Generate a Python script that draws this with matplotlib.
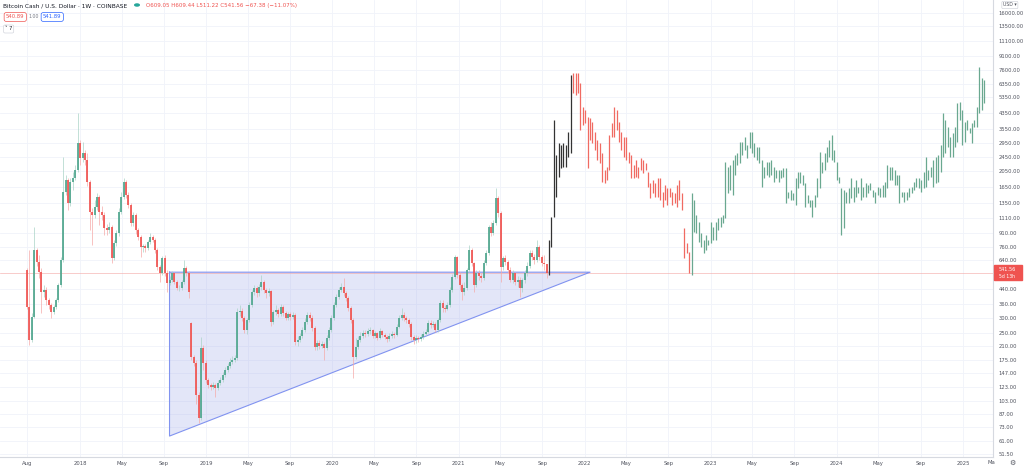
import numpy as np
import pandas as pd
import matplotlib
matplotlib.use('Agg')
import matplotlib.pyplot as plt
import matplotlib.dates as mdates
import matplotlib.ticker as mticker
from matplotlib.patches import Polygon, Rectangle, Circle

# weekly candles, first bar = week of 2017-07-31
first_open = 565
open_gaps = {68: 284}   # weeks that opened away from the previous close

closes = [349, 227, 307, 732, 627, 550, 424, 435, 382, 358,
          327, 349, 382, 465, 643, 1557, 1820, 1350, 1774, 1868,
          2073, 2945, 2424, 2586, 2361, 1774, 1201, 1155, 1281, 1459,
          1201, 1155, 975, 950, 988, 660, 803, 914, 1201, 1459,
          1774, 1498, 1315, 1041, 1155, 950, 868, 762, 772, 752,
          813, 868, 834, 732, 587, 543, 660, 543, 477, 496,
          543, 483, 447, 447, 483, 580, 543, 424, 182, 169,
          111, 82, 205, 169, 135, 127, 123, 127, 122, 130,
          135, 144, 154, 162, 171, 175, 180, 327, 332, 303,
          259, 295, 358, 424, 447, 419, 453, 483, 435, 419,
          430, 288, 327, 336, 319, 349, 323, 303, 319, 307,
          315, 222, 227, 240, 259, 288, 315, 303, 266, 208,
          219, 210, 216, 205, 233, 259, 303, 358, 397, 435,
          453, 419, 392, 345, 295, 182, 208, 227, 240, 249,
          246, 256, 259, 240, 249, 233, 256, 243, 236, 230,
          240, 246, 243, 269, 303, 315, 303, 295, 280, 236,
          227, 233, 230, 236, 246, 252, 284, 276, 280, 259,
          295, 368, 345, 340, 358, 435, 516, 669, 529, 465,
          424, 447, 565, 732, 619, 465, 543, 522, 509, 619,
          705, 988, 914, 1041, 1440, 1185, 587, 660, 627, 565,
          496, 543, 483, 496, 447, 496, 543, 595, 705, 669,
          643, 762, 669, 619, 609.05, 541.56]

highs = [580, 732, 323, 988, 752, 686, 580, 465, 453, 392,
         368, 358, 392, 477, 669, 2455, 1943, 1868, 1868, 2020,
         2212, 4351, 3062, 2983, 2689, 2586, 1820, 1265, 1403, 1537,
         1498, 1298, 1201, 1027, 1054, 1014, 834, 950, 1265, 1557,
         1868, 1820, 1557, 1350, 1201, 1185, 975, 890, 792, 792,
         834, 914, 890, 856, 752, 603, 677, 686, 565, 522,
         558, 550, 496, 465, 496, 643, 595, 558, 288, 187,
         175, 116, 236, 213, 175, 139, 130, 132, 130, 135,
         141, 150, 160, 169, 180, 185, 187, 345, 358, 345,
         311, 303, 372, 435, 465, 459, 471, 529, 496, 447,
         447, 435, 336, 358, 345, 363, 358, 332, 327, 327,
         327, 323, 240, 249, 269, 303, 327, 327, 315, 273,
         227, 227, 224, 222, 243, 269, 315, 372, 413, 453,
         477, 509, 430, 403, 354, 303, 233, 240, 252, 259,
         259, 266, 269, 262, 256, 252, 266, 259, 249, 243,
         249, 256, 252, 280, 315, 345, 327, 311, 303, 288,
         243, 243, 240, 246, 256, 262, 295, 295, 292, 288,
         303, 382, 382, 358, 372, 453, 536, 686, 677, 550,
         477, 483, 580, 782, 752, 627, 565, 565, 543, 643,
         732, 1014, 1054, 1082, 1641, 1478, 1216, 677, 686, 643,
         587, 565, 550, 522, 516, 509, 565, 627, 732, 732,
         695, 834, 782, 686, 686, 609.44]

lows = [340, 213, 222, 303, 595, 509, 323, 397, 358, 340,
        303, 319, 340, 372, 453, 627, 1498, 1232, 1298, 1598,
        1820, 2020, 2212, 2300, 2212, 1684, 950, 782, 1111, 1232,
        1014, 1082, 890, 890, 914, 619, 643, 772, 879, 1170,
        1422, 1440, 1265, 1001, 1001, 902, 834, 669, 714, 714,
        732, 792, 813, 705, 565, 483, 529, 522, 424, 465,
        483, 471, 435, 430, 435, 471, 522, 392, 175, 162,
        98, 77, 80, 154, 130, 122, 119, 120, 108, 119,
        127, 132, 141, 150, 158, 166, 171, 175, 311, 292,
        249, 246, 288, 349, 408, 397, 403, 435, 419, 392,
        403, 273, 280, 315, 307, 311, 311, 295, 295, 295,
        299, 213, 210, 222, 233, 252, 280, 292, 256, 200,
        200, 202, 205, 175, 200, 227, 252, 295, 349, 387,
        424, 403, 377, 332, 284, 139, 178, 202, 222, 233,
        236, 240, 246, 233, 233, 227, 230, 236, 230, 222,
        224, 233, 233, 240, 266, 295, 292, 284, 269, 227,
        216, 219, 222, 224, 230, 240, 249, 266, 269, 252,
        252, 288, 327, 327, 336, 349, 424, 502, 509, 435,
        382, 408, 435, 550, 595, 424, 453, 496, 483, 496,
        603, 686, 879, 890, 1014, 1125, 483, 565, 603, 543,
        483, 477, 465, 453, 397, 424, 477, 522, 580, 643,
        611, 627, 643, 595, 565, 511.22]

# bars pattern projection (high/low only)
black_hi = [834, 1125, 3972, 2520, 2943, 2870, 2943, 2870, 3397, 7131]
black_lo = [529, 762, 1125, 1460, 1893, 2130, 2155, 2155, 2457, 2587]

red_hi = [7321, 7321, 7321, 6429, 4705, 4524, 4130,
          4074, 3869, 3397, 3062, 2943, 2587, 2073, 2155, 3268, 3821,
          4703, 4524, 3869, 3397, 3185, 3185, 2620, 2520, 2212, 2361,
          2155, 2421, 2361, 2269, 2019, 1749, 1820, 1749, 1867, 1867,
          1556, 1706, 1640, 1640, 1556, 1535, 1706, 1820, 1535,
          975, 803, 713]
red_lo = [5640, 5498, 5640, 3488, 3722, 3823, 2126,
          3062, 2943, 2689, 2361, 2269, 1773, 1749, 1820, 2073, 3185,
          3185, 3488, 2982, 2689, 2457, 2361, 2269, 1867, 1867, 1893,
          1867, 2073, 1992, 2073, 1661, 1440, 1535, 1459, 1459, 1403,
          1281, 1403, 1315, 1459, 1315, 1350, 1281, 1403, 1232,
          660, 704, 543]

green_hi = [1535, 1403, 1155, 1054, 913, 834, 890, 834, 1054, 988,
            1054, 1110, 1125, 1155, 2300, 2155, 2212, 2361, 2520, 2587,
            2982, 2982, 3185, 2870, 3397, 3397, 2943, 2796, 2796, 2361,
            2155, 2300, 2300, 2361, 2155, 2073, 2073,
            2073, 2126, 2126, 1556, 1598, 1535, 1867, 2019, 2019, 1943,
            1749, 1498, 1403, 1403, 1498, 1867, 2620, 2300, 2587, 2796,
            3062, 3268, 2689, 2300, 1893, 1640, 1598, 1556, 1640, 1867,
            1661, 1820, 1661, 1867, 1661, 1749, 1706, 1749, 1598, 1556,
            1661, 1640, 1706, 1773, 2212, 2155, 2155, 2073, 1943, 1943,
            1556, 1556, 1556, 1640, 1661, 1773, 1867, 1867, 1820, 2019,
            2457, 2073, 2155, 2361, 2457, 2520, 2870, 4350, 3972, 3621,
            3185, 3352, 3621, 4952, 5020, 4524, 3869, 3972, 3577, 3821,
            3972, 4703, 7911, 6853, 6682]
green_lo = [529, 925, 913, 813, 762, 704, 732, 782, 803, 834,
            834, 950, 988, 1040, 1110, 1535, 1598, 1498, 1943, 2212,
            2269, 2520, 2689, 2421, 2759, 2587, 2457, 2361, 2269, 1661,
            1867, 1943, 1893, 1943, 1773, 1867, 1773,
            1867, 1893, 1350, 1440, 1403, 1403, 1315, 1640, 1749, 1706,
            1281, 1350, 1281, 1125, 1281, 1459, 1640, 1992, 2073, 2300,
            2457, 2361, 2300, 1820, 1749, 890, 975, 1350, 1350, 1440,
            1367, 1459, 1535, 1403, 1459, 1459, 1535, 1598, 1459, 1350,
            1498, 1459, 1459, 1459, 1640, 1820, 1820, 1706, 1706, 1350,
            1459, 1367, 1403, 1459, 1535, 1598, 1661, 1640, 1556, 1640,
            1661, 1820, 1893, 1661, 1749, 1773, 2019, 2457, 2587, 2796,
            2457, 2457, 2796, 2982, 3972, 2870, 2982, 3488, 3352, 2943,
            3621, 3621, 4350, 4524, 4952]

price_ticks = [16000, 13500, 11100, 9100, 7600, 6350, 5350, 4350, 3550, 2950,
               2450, 2050, 1650, 1350, 1110, 910, 760, 640, 440, 360,
               300, 250, 210, 175, 147, 123, 103, 87, 73, 61, 51.5]

last_price = 541.56
tri_top = 548
tri_bottom = 65

# ---------------------------------------------------------------
n_total = len(closes) + len(black_hi) + len(red_hi) + len(green_hi)
dates = pd.date_range('2017-07-31', periods=n_total, freq='7D')
xd = mdates.date2num(dates.to_pydatetime())

n_real = len(closes)
opens = [first_open] + closes[:-1]
for k, v in open_gaps.items():
    opens[k] = v
opens = np.array(opens, dtype=float)
closes_a = np.array(closes, dtype=float)
up = closes_a >= opens

UP, DOWN = '#4fa68e', '#ef5350'
UP_W, DOWN_W = '#a9d3c6', '#f5aaa8'

fig = plt.figure(figsize=(10.24, 4.68), dpi=100)
ax = fig.add_axes([0, 11 / 468, 993 / 1024, 457 / 468])
ax.set_yscale('log')

# triangle drawing
t1 = mdates.date2num(pd.Timestamp('2018-09-17'))
t2 = mdates.date2num(pd.Timestamp('2022-01-17'))
tri = Polygon([(t1, tri_top), (t1, tri_bottom), (t2, tri_top)], closed=True,
              facecolor='#a3aeea', alpha=0.3, edgecolor='none', zorder=1)
ax.add_patch(tri)
ax.plot([t1, t1, t2, t1], [tri_top, tri_bottom, tri_top, tri_top],
        color='#8193f0', lw=0.8, zorder=2)

# current price line
ax.axhline(last_price, color='#f3a5a3', lw=0.5, alpha=0.8, zorder=1.5)

# real candles
xr = xd[:n_real]
ax.vlines(xr[up], np.array(lows)[up], np.array(highs)[up], color=UP_W, lw=0.5, zorder=3)
ax.vlines(xr[~up], np.array(lows)[~up], np.array(highs)[~up], color=DOWN_W, lw=0.5, zorder=3)
ax.vlines(xr[up], opens[up], closes_a[up], color=UP, lw=1.25, zorder=4)
ax.vlines(xr[~up], opens[~up], closes_a[~up], color=DOWN, lw=1.25, zorder=4)

# projected bars
i0 = n_real
i1 = i0 + len(black_hi)
i2 = i1 + len(red_hi)
ax.vlines(xd[i0:i1], black_lo, black_hi, color='#333333', lw=0.9, zorder=4)
ax.vlines(xd[i1:i2], red_lo, red_hi, color='#f06a62', lw=0.9, zorder=4)
ax.vlines(xd[i2:], green_lo, green_hi, color='#6aa890', lw=0.9, zorder=4)

# axes limits & ticks
ax.set_xlim(mdates.date2num(pd.Timestamp('2017-05-14')),
            mdates.date2num(pd.Timestamp('2025-03-29')))
ax.set_ylim(49.5, 18900)

ax.yaxis.set_major_locator(mticker.FixedLocator(price_ticks))
ax.yaxis.set_minor_locator(mticker.NullLocator())
ax.yaxis.set_major_formatter(mticker.FuncFormatter(lambda v, p: f'{v:.2f}'))
ax.yaxis.tick_right()

month_ticks = pd.to_datetime(['2017-08-01'] + [f'{y}-{m:02d}-01' for y in range(2018, 2026)
                                               for m in (1, 5, 9)])
month_ticks = [d for d in month_ticks if d <= pd.Timestamp('2025-03-29')]
month_labels = [str(d.year) if d.month == 1 else d.strftime('%b') for d in month_ticks]
ax.set_xticks(mdates.date2num(month_ticks))
ax.set_xticklabels(month_labels)

ax.tick_params(axis='both', length=0, labelsize=3.8, colors='#50535e')
ax.tick_params(axis='y', pad=4)
ax.tick_params(axis='x', pad=3)
ax.grid(True, color='#f0f3fa', lw=0.6, zorder=0)
ax.set_axisbelow(True)
for s in ('top', 'left'):
    ax.spines[s].set_visible(False)
for s in ('right', 'bottom'):
    ax.spines[s].set_color('#d6d9e0')
    ax.spines[s].set_linewidth(0.8)


def fx(x):
    return x / 1024


def fy(y):
    return 1 - y / 468


# header
fig.text(fx(3), fy(5.5), 'Bitcoin Cash / U.S. Dollar · 1W · COINBASE', fontsize=4.2,
         color='#131722', va='center', ha='left')
fig.patches.append(Circle((fx(137), fy(5)), 0.0022, color='#26a69a',
                          transform=fig.transFigure, figure=fig))
fig.text(fx(146), fy(5.5), 'O609.05 H609.44 L511.22 C541.56 −67.38 (−11.07%)', fontsize=4,
         color='#ef5350', va='center', ha='left')

fig.text(fx(6), fy(17), '540.89', fontsize=3.8, color='#ef5350', va='center', ha='left',
         bbox=dict(boxstyle='round,pad=0.35', fc='white', ec='#ef5350', lw=0.5))
fig.text(fx(28), fy(17), '1.00', fontsize=3.4, color='#787b86', va='center', ha='left')
fig.text(fx(43), fy(17), '541.89', fontsize=3.8, color='#2962ff', va='center', ha='left',
         bbox=dict(boxstyle='round,pad=0.35', fc='white', ec='#2962ff', lw=0.5))
fig.text(fx(5), fy(29), '˅ 7', fontsize=3.6, color='#131722', va='center', ha='left',
         bbox=dict(boxstyle='round,pad=0.3', fc='white', ec='#c8cbd4', lw=0.4))

# currency box at top of price scale
fig.text(fx(1003), fy(5), 'USD ▾', fontsize=3.3, color='#50535e', va='center', ha='left',
         bbox=dict(boxstyle='round,pad=0.25', fc='white', ec='#c8cbd4', lw=0.4))

# last price label
fig.patches.append(Rectangle((fx(994), fy(280)), fx(28), 15 / 468, color='#ef5350',
                             transform=fig.transFigure, figure=fig))
fig.text(fx(999), fy(269.5), '541.56', fontsize=3.6, color='white', va='center', ha='left')
fig.text(fx(999), fy(276.5), '5d 13h', fontsize=3.3, color='white', va='center', ha='left')

# bottom right
fig.text(fx(988), fy(463), 'Ma', fontsize=3.8, color='#50535e', va='center', ha='left')
fig.text(fx(1012), fy(463), '⚙', fontsize=5, color='#50535e', va='center', ha='center')

fig.savefig('out.png', dpi=100)
